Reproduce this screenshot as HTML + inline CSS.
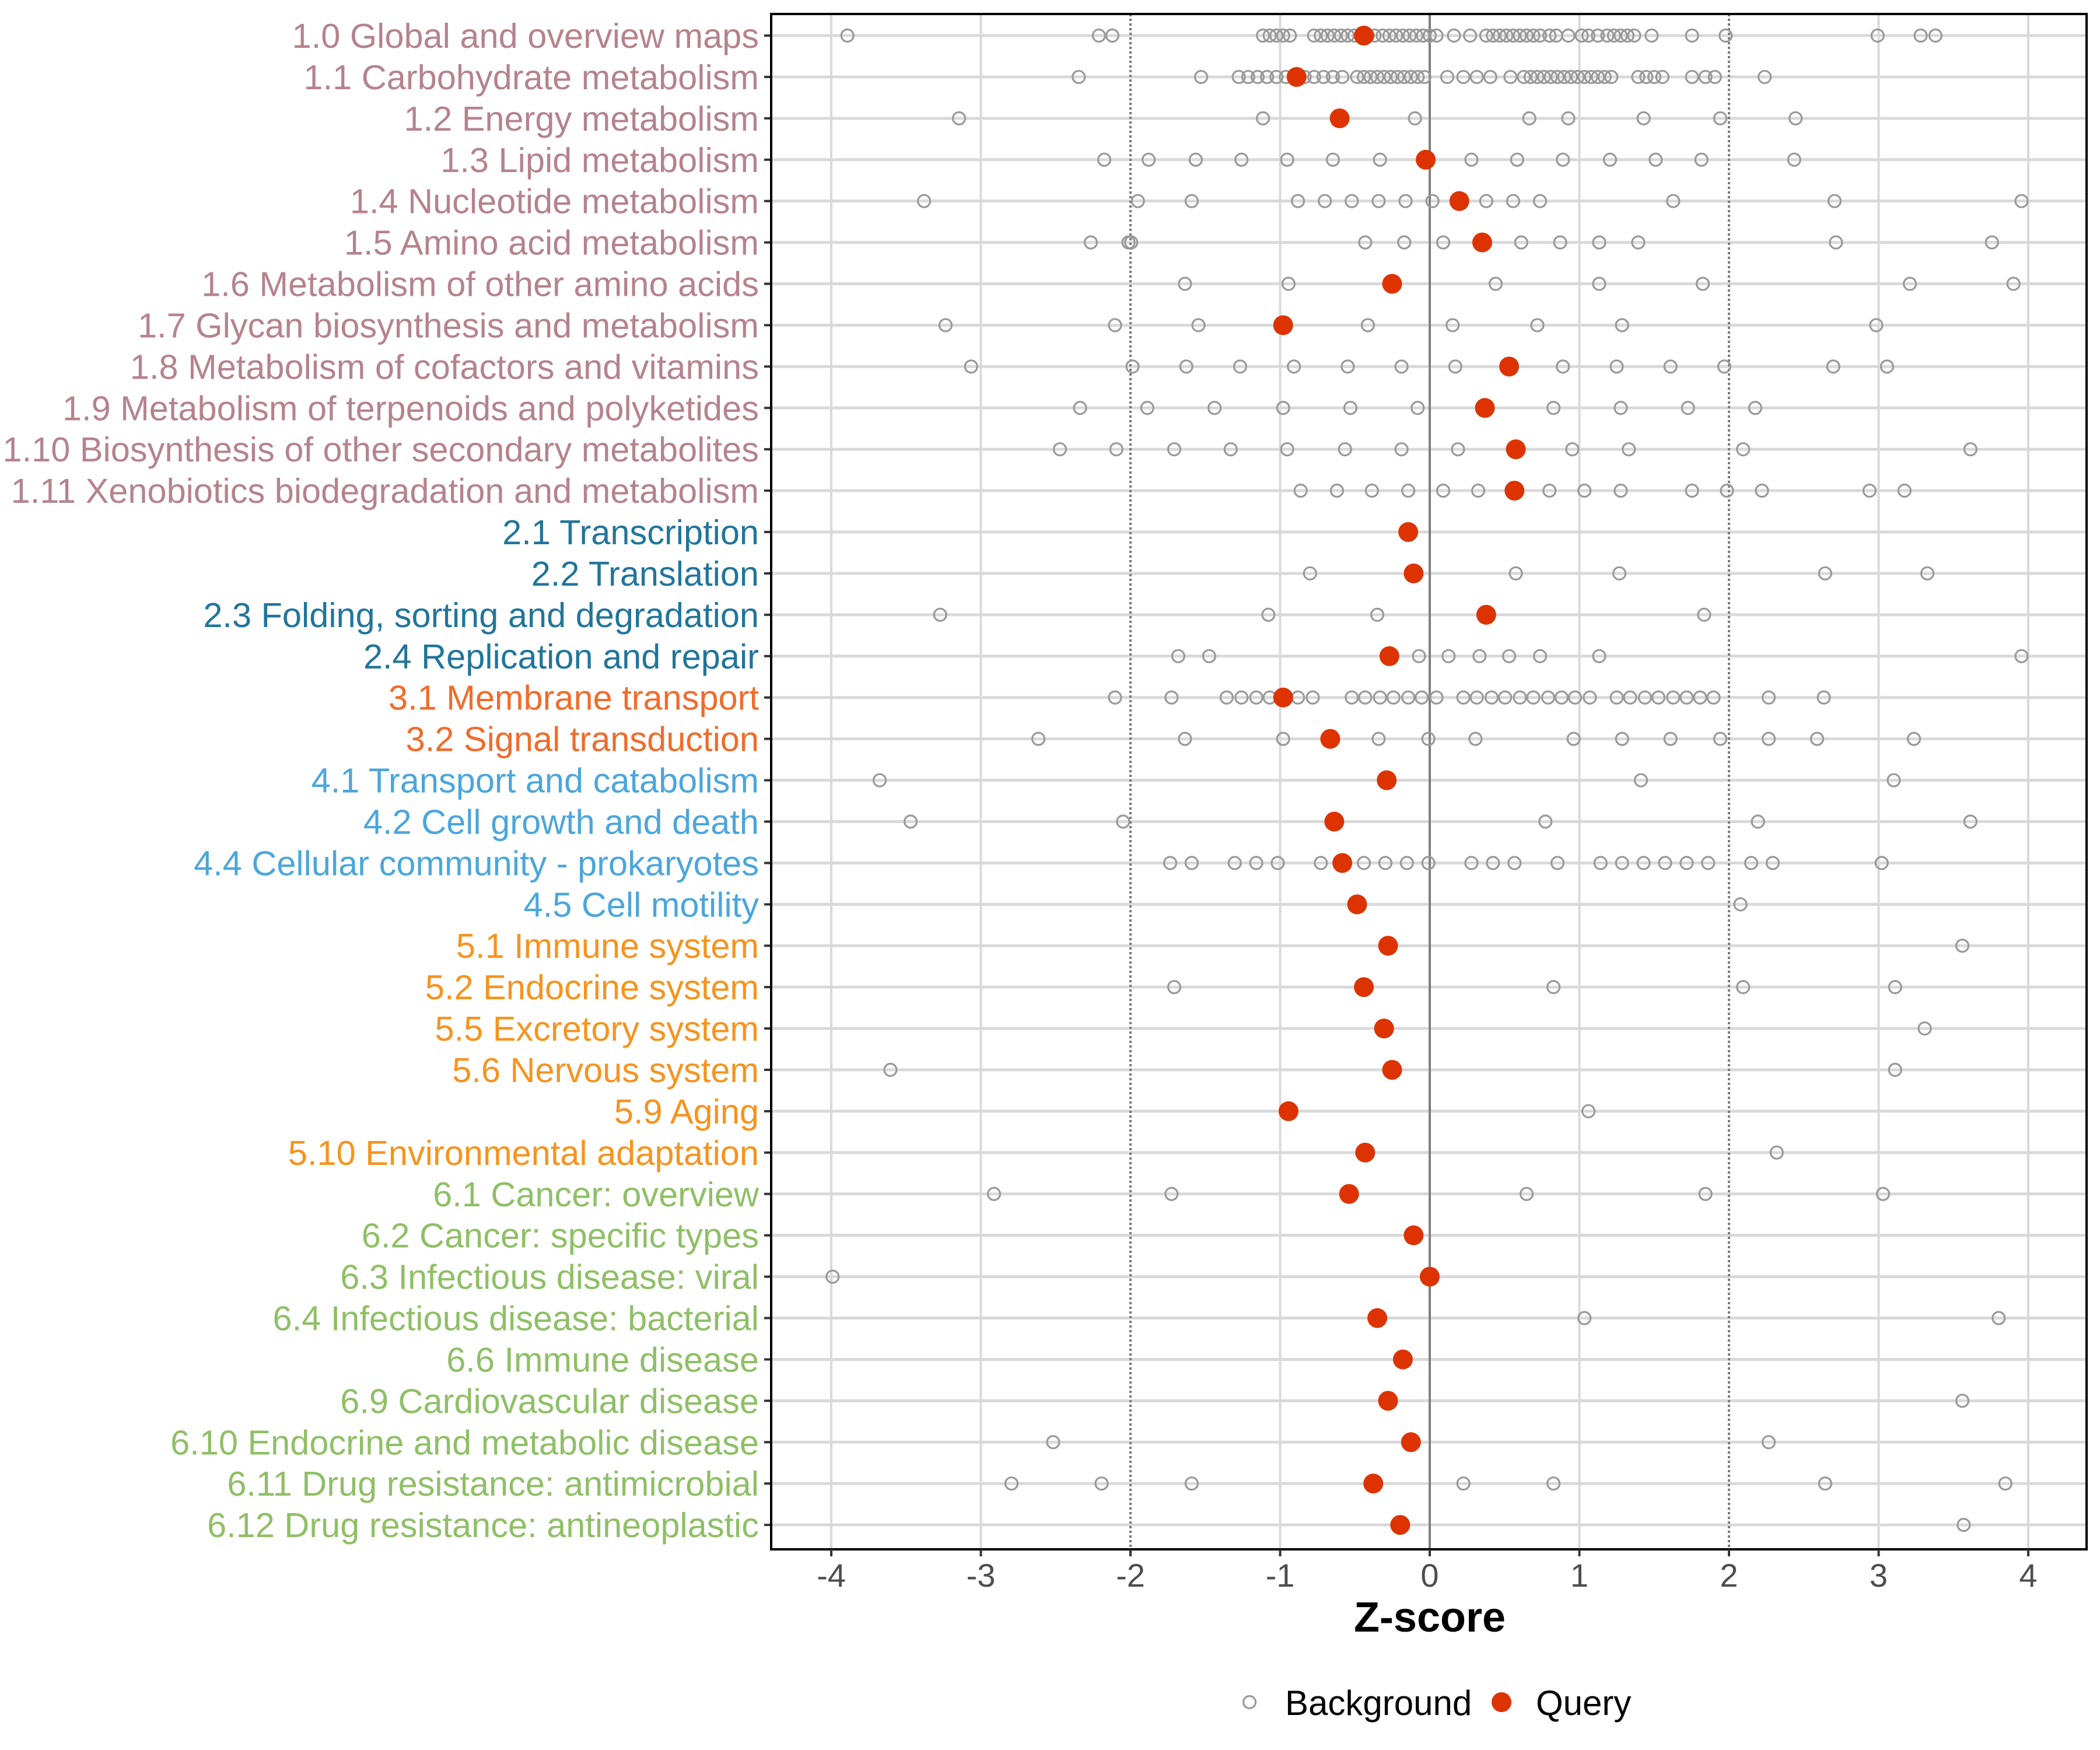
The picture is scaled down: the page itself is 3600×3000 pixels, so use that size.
<!DOCTYPE html>
<html><head><meta charset="utf-8"><style>html,body{margin:0;padding:0;background:#fff}svg{display:block}</style></head>
<body>
<svg id="s" xmlns="http://www.w3.org/2000/svg" width="3600" height="3000" viewBox="0 0 3600 3000" font-family="Liberation Sans, Arial, sans-serif"></svg>
<script>
const rows=[
["1.0 Global and overview maps","#B5838D",1018,[634,821,831,943,948,953,958,963,981,986,991,996,1001,1006,1011,1016,1021,1026,1032,1037,1042,1047,1052,1057,1062,1067,1072,1085,1097,1109,1114,1119,1124,1129,1134,1139,1144,1149,1156,1161,1170,1180,1185,1192,1199,1204,1209,1214,1219,1232,1262,1287,1400,1432,1443]],
["1.1 Carbohydrate metabolism","#B5838D",968,[806,897,925,932,939,946,953,960,967,974,981,988,995,1002,1013,1018,1023,1028,1033,1038,1043,1048,1053,1058,1063,1080,1092,1102,1112,1127,1137,1142,1147,1152,1157,1162,1167,1172,1177,1182,1187,1192,1197,1202,1222,1228,1234,1240,1262,1272,1279,1316]],
["1.2 Energy metabolism","#B5838D",1000,[717,943,1056,1141,1170,1226,1283,1339]],
["1.3 Lipid metabolism","#B5838D",1064,[825,858,893,927,961,995,1030,1064,1098,1132,1166,1201,1235,1269,1338]],
["1.4 Nucleotide metabolism","#B5838D",1089,[691,850,890,969,989,1009,1029,1049,1069,1089,1109,1129,1149,1248,1368,1507]],
["1.5 Amino acid metabolism","#B5838D",1106,[815,843,845,1019,1048,1077,1106,1135,1164,1193,1222,1369,1485]],
["1.6 Metabolism of other amino acids","#B5838D",1039,[885,962,1116,1193,1270,1424,1501]],
["1.7 Glycan biosynthesis and metabolism","#B5838D",958,[707,833,895,958,1021,1084,1147,1210,1399]],
["1.8 Metabolism of cofactors and vitamins","#B5838D",1126,[726,846,886,926,966,1006,1046,1086,1126,1166,1206,1246,1286,1367,1407]],
["1.9 Metabolism of terpenoids and polyketides","#B5838D",1108,[807,857,907,958,1008,1058,1108,1159,1209,1259,1309]],
["1.10 Biosynthesis of other secondary metabolites","#B5838D",1131,[792,834,877,919,961,1004,1046,1088,1131,1173,1215,1300,1469]],
["1.11 Xenobiotics biodegradation and metabolism","#B5838D",1130,[971,998,1024,1051,1077,1103,1130,1156,1182,1209,1262,1288,1314,1394,1420]],
["2.1 Transcription","#21759B",1051,[]],
["2.2 Translation","#21759B",1055,[978,1131,1208,1361,1437]],
["2.3 Folding, sorting and degradation","#21759B",1109,[703,947,1028,1109,1271]],
["2.4 Replication and repair","#21759B",1037,[880,903,1059,1081,1104,1126,1149,1193,1507]],
["3.1 Membrane transport","#F26B2A",958,[833,875,916,927,938,948,959,969,980,1009,1019,1030,1040,1051,1061,1072,1092,1102,1113,1123,1134,1144,1155,1165,1175,1186,1206,1216,1227,1237,1248,1258,1268,1278,1319,1360]],
["3.2 Signal transduction","#F26B2A",993,[776,885,958,1029,1066,1101,1174,1210,1246,1283,1319,1355,1427]],
["4.1 Transport and catabolism","#4BA6DC",1035,[658,1224,1412]],
["4.2 Cell growth and death","#4BA6DC",996,[681,839,1153,1311,1469]],
["4.4 Cellular community - prokaryotes","#4BA6DC",1002,[874,890,922,938,954,986,1018,1034,1050,1066,1098,1114,1130,1162,1194,1210,1226,1242,1258,1274,1306,1322,1403]],
["4.5 Cell motility","#4BA6DC",1013,[1298]],
["5.1 Immune system","#F7931E",1036,[1463]],
["5.2 Endocrine system","#F7931E",1018,[877,1159,1300,1413]],
["5.5 Excretory system","#F7931E",1033,[1435]],
["5.6 Nervous system","#F7931E",1039,[666,1413]],
["5.9 Aging","#F7931E",962,[1185]],
["5.10 Environmental adaptation","#F7931E",1019,[1325]],
["6.1 Cancer: overview","#8FBF66",1007,[743,875,1139,1272,1404]],
["6.2 Cancer: specific types","#8FBF66",1055,[]],
["6.3 Infectious disease: viral","#8FBF66",1067,[623]],
["6.4 Infectious disease: bacterial","#8FBF66",1028,[1182,1490]],
["6.6 Immune disease","#8FBF66",1047,[]],
["6.9 Cardiovascular disease","#8FBF66",1036,[1463]],
["6.10 Endocrine and metabolic disease","#8FBF66",1053,[787,1319]],
["6.11 Drug resistance: antimicrobial","#8FBF66",1025,[756,823,890,1092,1159,1361,1495]],
["6.12 Drug resistance: antineoplastic","#8FBF66",1045,[1464]]
];
const L=1322,R=3577,T=24,B=2656,x0=2451,u=256.5;
const X=d=>x0+(d-1067)/111.25*u;
const Y=i=>61+i*70.92;
let h='';
for(let k=-4;k<=4;k++){if(k==0||k==2||k==-2)continue;h+=`<line x1="${x0+k*u}" x2="${x0+k*u}" y1="${T}" y2="${B}" stroke="#d9d9d9" stroke-width="4"/>`;}
rows.forEach((r,i)=>{h+=`<line x1="${L}" x2="${R}" y1="${Y(i)}" y2="${Y(i)}" stroke="#d9d9d9" stroke-width="5"/>`;});
h+=`<line x1="${x0}" x2="${x0}" y1="${T}" y2="${B}" stroke="#808080" stroke-width="4"/>`;
[-2,2].forEach(k=>{h+=`<line x1="${x0+k*u}" x2="${x0+k*u}" y1="${T}" y2="${B}" stroke="#7a7a7a" stroke-width="4" stroke-dasharray="4 4"/>`;});
rows.forEach((r,i)=>{const y=Y(i);
 r[3].forEach(d=>{h+=`<circle cx="${X(d)}" cy="${y}" r="10.5" fill="none" stroke="#999" stroke-width="3.2"/>`;});
 h+=`<circle cx="${X(r[2])}" cy="${y}" r="17" fill="#DD3300"/>`;
 h+=`<line x1="${L-12}" x2="${L}" y1="${y}" y2="${y}" stroke="#333" stroke-width="4"/>`;
 h+=`<text x="1301" y="${y+21}" text-anchor="end" font-size="59.5" fill="${r[1]}">${r[0]}</text>`;
});
h+=`<rect x="${L}" y="${T}" width="${R-L}" height="${B-T}" fill="none" stroke="#000" stroke-width="4"/>`;
for(let k=-4;k<=4;k++){const x=x0+k*u;h+=`<line x1="${x}" x2="${x}" y1="${B}" y2="${B+12}" stroke="#333" stroke-width="4"/><text x="${x}" y="${B+64}" text-anchor="middle" font-size="56" fill="#4d4d4d">${k}</text>`;}
h+=`<text x="${x0}" y="${B+141}" text-anchor="middle" font-size="72" font-weight="bold" fill="#000">Z-score</text>`;
h+=`<circle cx="2142" cy="2918" r="10.5" fill="none" stroke="#999" stroke-width="3.2"/><text x="2203" y="2940" font-size="60" fill="#000">Background</text>`;
h+=`<circle cx="2574" cy="2918" r="17" fill="#DD3300"/><text x="2633" y="2940" font-size="60" fill="#000">Query</text>`;
document.getElementById('s').innerHTML=h;
</script>
</body></html>
